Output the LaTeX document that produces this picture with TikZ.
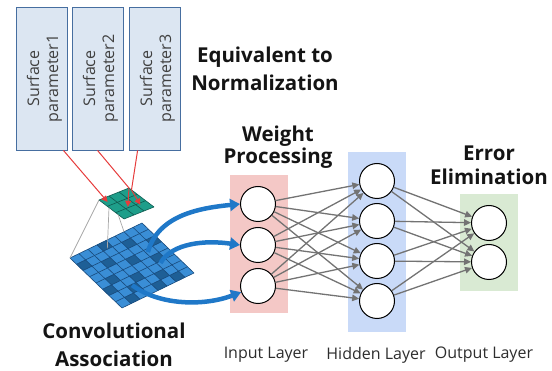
\documentclass[tikz,border=0pt]{standalone}
\usepackage{fontspec}
\setmainfont{Open Sans}
\usetikzlibrary{arrows.meta,calc}
\definecolor{boxfill}{RGB}{220,230,242}
\definecolor{boxdraw}{RGB}{70,110,160}
\definecolor{boxtext}{RGB}{64,64,64}
\definecolor{inbg}{RGB}{244,200,198}
\definecolor{hidbg}{RGB}{201,218,248}
\definecolor{outbg}{RGB}{217,234,211}
\definecolor{edgegray}{RGB}{115,115,115}
\definecolor{bigcell}{RGB}{58,142,214}
\definecolor{bigdark}{RGB}{30,95,150}
\definecolor{bigline}{RGB}{25,75,125}
\definecolor{smallcell}{RGB}{30,158,138}
\definecolor{smallline}{RGB}{14,90,80}
\definecolor{bluearrow}{RGB}{31,120,200}
\definecolor{redline}{RGB}{230,60,60}
\definecolor{labeltext}{RGB}{45,45,45}
\begin{document}
\begin{tikzpicture}[x=1pt,y=-1pt,
  pbox/.style={draw=boxdraw,fill=boxfill,line width=0.8pt,minimum width=51pt,minimum height=143pt,inner sep=0pt},
  ptext/.style={rotate=90,align=center,text=boxtext,font=\fontsize{16}{19}\selectfont},
  layerbg/.style={minimum width=58pt,inner sep=0pt,draw=none},
  neuron/.style={circle,draw=black,fill=white,line width=1pt,minimum size=35pt,inner sep=0pt},
  nnedge/.style={draw=edgegray,line width=1.3pt,-{Triangle[length=7pt,width=6.5pt]}},
  title/.style={align=center,text=black!92,font=\fontsize{20.5}{#1}\selectfont\bfseries},
  laylabel/.style={text=labeltext,font=\fontsize{16}{18}\selectfont},
  bluearr/.style={draw=bluearrow,line width=4.5pt,-{Triangle[length=10pt,width=12pt]}},
  redarr/.style={draw=redline,line width=1pt,-{Triangle[length=6pt,width=6pt]}},
  conn/.style={draw=black!35,line width=0.7pt}
]
\useasboundingbox (0,0) rectangle (552,371);

% surface parameter boxes
\node[pbox] (b1) at (41.5,78.5) {};
\node[pbox] (b2) at (97.5,78.5) {};
\node[pbox] (b3) at (154.5,78.5) {};
\node[ptext] (t1) at ([xshift=3pt]b1.center) {Surface\\parameter1};
\node[ptext] (t2) at ([xshift=3pt]b2.center) {Surface\\parameter2};
\node[ptext] (t3) at ([xshift=3pt]b3.center) {Surface\\parameter3};

% titles
\node[title=28] (eq) at (265,69) {Equivalent to\\Normalization};
\node[title=22] (wp) at (278,147) {Weight\\Processing};
\node[title=24] (ee) at (489,165) {Error\\Elimination};
\node[title=28] (ca) at (114,345) {Convolutional\\Association};

% layer backgrounds
\node[layerbg,fill=inbg,minimum height=138pt] (inL) at (259,244) {};
\node[layerbg,fill=hidbg,minimum height=180pt] (hidL) at (377,242) {};
\node[layerbg,fill=outbg,minimum height=97pt] (outL) at (489,242.5) {};

% layer labels
\node[laylabel] (li) at (266,355) {Input Layer};
\node[laylabel] (lh) at (376,355) {Hidden Layer};
\node[laylabel] (lo) at (484,355) {Output Layer};

% neurons
\node[neuron] (i1) at (258,204) {};
\node[neuron] (i2) at (258,245) {};
\node[neuron] (i3) at (258,286) {};
\node[neuron] (h1) at (377,181) {};
\node[neuron] (h2) at (377,221) {};
\node[neuron] (h3) at (377,261) {};
\node[neuron] (h4) at (377,301) {};
\node[neuron] (o1) at (489,223) {};
\node[neuron] (o2) at (489,262) {};

\foreach \a in {1,2,3}
  \foreach \b in {1,2,3,4}
    \draw[nnedge] (i\a) -- (h\b);
\foreach \a in {1,2,3,4}
  \foreach \b in {1,2}
    \draw[nnedge] (h\a) -- (o\b);

% large grid
\begin{scope}[shift={(70pt,-258pt)},x={(9pt,4.375pt)},y={(6.5pt,-6.25pt)}]
  \coordinate (g00) at (0,0);
  \coordinate (gA) at (3.5,0.9);
  \coordinate (gB) at (6,0);
  \coordinate (gs1) at (6.2,3.4);
  \coordinate (gs2) at (6.3,5.2);
  \coordinate (gs3) at (2.5,6.1);
  \fill[bigcell] (0,0) -- (8,0) -- (8,8) -- (0,8) -- cycle;
  \foreach \i/\j in {0/1,1/4,2/2,2/6,3/0,3/5,4/3,5/1,5/6,6/4,1/7,7/2,4/7,0/5,6/7}
    \fill[bigdark] (\i,\j) -- ++(1,0) -- ++(0,1) -- ++(-1,0) -- cycle;
  \foreach \k in {0,...,8} {
    \draw[bigline,line width=0.6pt] (\k,0) -- (\k,8);
    \draw[bigline,line width=0.6pt] (0,\k) -- (8,\k);
  }
\end{scope}

% small grid
\begin{scope}[shift={(99pt,-200pt)},x={(10pt,4pt)},y={(8.333pt,-6.333pt)}]
  \coordinate (s00) at (0,0);
  \coordinate (sA) at (0,1.2);
  \coordinate (sB) at (0,2.3);
  \coordinate (r1) at (0.4,0.55);
  \coordinate (m2) at (3,0);
  \coordinate (r2) at (1.3,1.9);
  \coordinate (m3) at (3,0.3);
  \coordinate (r3) at (2.3,2.2);
  \fill[smallcell] (0,0) -- (3,0) -- (3,3) -- (0,3) -- cycle;
  \foreach \k in {0,...,3} {
    \draw[smallline,line width=0.6pt] (\k,0) -- (\k,3);
    \draw[smallline,line width=0.6pt] (0,\k) -- (3,\k);
  }
\end{scope}

% projection lines
\draw[conn] (s00) -- (g00);
\draw[conn] (sA) -- (gA);
\draw[conn] (sB) -- (gB);

% red arrows
\draw[redarr] ([xshift=-4pt]b1.south east) -- (r1);
\draw[redarr] (b2.south) -- (m2) -- (r2);
\draw[redarr] ([xshift=9pt]b3.south west) -- (m3) -- (r3);

% blue arrows
\draw[bluearr] (gs1) .. controls (158,215) and (200,208) .. (i1.west);
\draw[bluearr] (gs2) .. controls (172,243) and (205,240) .. (i2.west);
\draw[bluearr] (gs3) .. controls (160,306) and (205,306) .. (i3.200);
\end{tikzpicture}
\end{document}
